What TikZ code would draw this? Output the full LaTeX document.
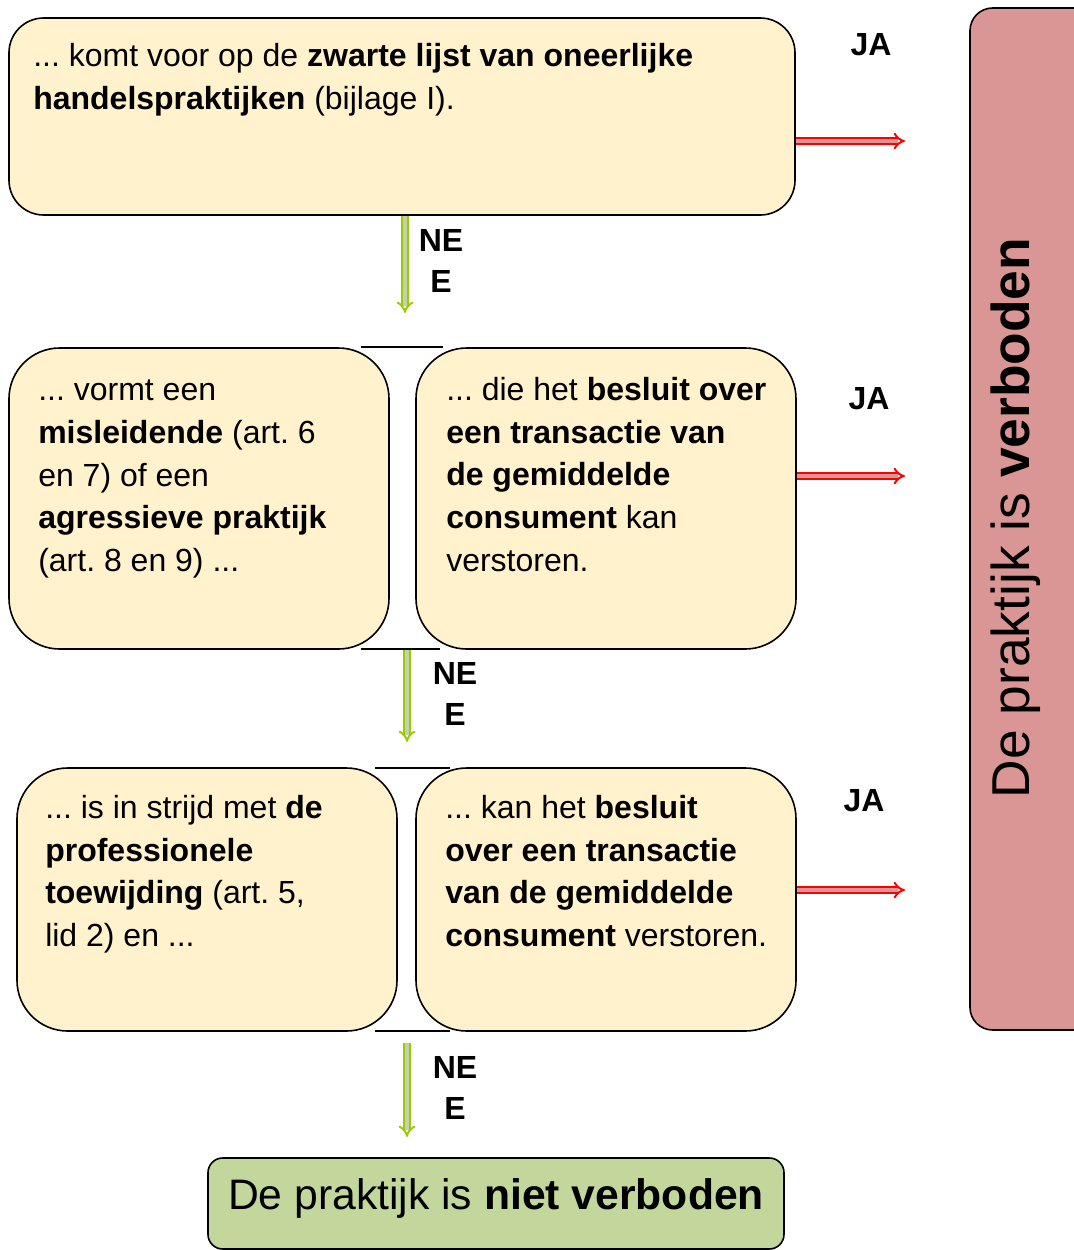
\documentclass[tikz,border=0pt]{standalone}
\usepackage{fontspec}
\setmainfont{Liberation Sans}
\usepackage{tikz}
\usetikzlibrary{arrows.meta}
\usetikzlibrary{fit}
\frenchspacing

\definecolor{boxcream}{HTML}{FFF2CC}
\definecolor{boxred}{HTML}{D99694}
\definecolor{boxgreen}{HTML}{C3D69B}
\definecolor{neegreen}{HTML}{99CC00}
\definecolor{neefill}{HTML}{C4D0B0}

\tikzset{
  box/.style={draw, line width=1.2pt, fill=boxcream, rounded corners=38pt, inner sep=0pt},
  txt/.style={anchor=north west, align=left, inner sep=0pt, font=\fontsize{24}{32}\selectfont},
  lbl/.style={align=center, inner sep=0pt, font=\fontsize{24}{31}\selectfont\bfseries},
  jaarrow/.style={draw=red, line width=1.5pt, double=boxred, double distance=2.6pt, -{Implies}},
  nearrow/.style={draw=neegreen, line width=1.5pt, double=neefill, double distance=2.6pt, -{Implies}},
}

\begin{document}
\begin{tikzpicture}[x=0.75pt,y=-0.75pt]
        \useasboundingbox (0,0) rectangle (1074,1250);

        \node[box, fill=boxred, rounded corners=17pt, fit={(970,8) (1100,1030)}] (rb) {};
        \node[rotate=90, inner sep=0pt, font=\fontsize{40}{48}\selectfont] (verb) at (1016,518)
             {De praktijk is \textbf{verboden}};

        \node[box, rounded corners=26pt, fit={(9,18) (795,215)}] (b1) {};
        \node[txt] (t1) at (33,43) {... komt voor op de \textbf{zwarte lijst van oneerlijke}\\
             \textbf{handelspraktijken} (bijlage I).};

        \node[box, fit={(9,348) (389,649)}] (b2) {};
        \node[txt] (t2) at (38,380) {... vormt een\\ \textbf{misleidende} (art. 6\\ en 7) of een\\
             \textbf{agressieve praktijk}\\ (art. 8 en 9) ...};
        \node[box, fit={(416,348) (796,649)}] (b3) {};
        \node[txt] (t3) at (446,377) {... die het \textbf{besluit over}\\ \textbf{een transactie van}\\
             \textbf{de gemiddelde}\\ \textbf{consument} kan\\ verstoren.};
        \draw[line width=1.2pt] (361,347) -- (443,347);
        \draw[line width=1.2pt] (361,649) -- (440,649);

        \node[box, fit={(17,768) (397,1031)}] (b4) {};
        \node[txt] (t4) at (45,795) {... is in strijd met \textbf{de}\\ \textbf{professionele}\\
             \textbf{toewijding} (art. 5,\\ lid 2) en ...};
        \node[box, fit={(416,768) (796,1031)}] (b5) {};
        \node[txt] (t5) at (445,795) {... kan het \textbf{besluit}\\ \textbf{over een transactie}\\
             \textbf{van de gemiddelde}\\ \textbf{consument} verstoren.};
        \draw[line width=1.2pt] (375,768) -- (450,768);
        \draw[line width=1.2pt] (375,1031) -- (450,1031);

        \node[box, fill=boxgreen, rounded corners=11pt, fit={(208,1158) (784,1249)}] (gb) {};
        \node[inner sep=0pt, font=\fontsize{32}{38}\selectfont] (niet) at (496,1198)
             {De praktijk is \textbf{niet verboden}};

        \coordinate (j1) at (905,141);
        \coordinate (j2) at (905,476);
        \coordinate (j3) at (905,890);
        \draw[jaarrow] (b1.east |- j1) -- (j1);
        \draw[jaarrow] (b3.east |- j2) -- (j2);
        \draw[jaarrow] (b5.east |- j3) -- (j3);
        \node[lbl] (ja1) at (871,45) {JA};
        \node[lbl] (ja2) at (869,399) {JA};
        \node[lbl] (ja3) at (864,801) {JA};

        \coordinate (n1) at (405,313);
        \coordinate (n2) at (407,742);
        \coordinate (n3a) at (407,1043);
        \coordinate (n3) at (407,1137);
        \draw[nearrow] (b1.south -| n1) -- (n1);
        \draw[nearrow] (b2.south -| n2) -- (n2);
        \draw[nearrow] (n3a) -- (n3);
        \node[lbl] (nee1) at (441,261) {NE\\E};
        \node[lbl] (nee2) at (455,694) {NE\\E};
        \node[lbl] (nee3) at (455,1088) {NE\\E};
\end{tikzpicture}
\end{document}
